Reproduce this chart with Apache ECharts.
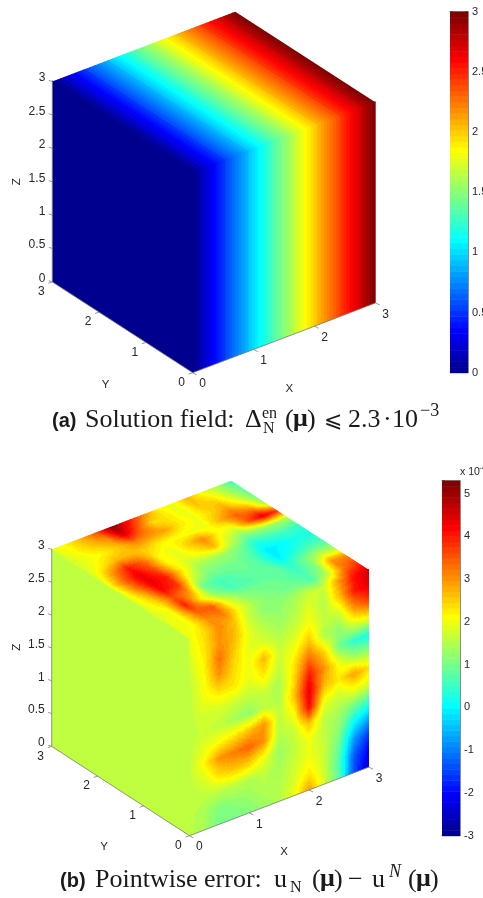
<!DOCTYPE html>
<html><head><meta charset="utf-8">
<style>html,body{margin:0;padding:0;background:#fff;overflow:hidden}#c{width:483px;height:898px}</style>
<script src="https://cdn.jsdelivr.net/npm/echarts@6/dist/echarts.min.js"></script>
</head><body><div id="c"></div>
<script>
// ---- data ----
const xTicks=[0,1,2,3], yTicks=[0,1,2,3], zTicks=[0,0.5,1,1.5,2,2.5,3];
const rangeA=[0,3], rangeB=[-3,5.3];
// panel (a): solution field, read along x (rows are identical along the other direction)
const solutionRow=[0,0.25,0.5,0.75,1,1.25,1.5,1.75,2,2.25,2.5,2.75,3];
const solutionLeft=[[0,0],[0,0]];
// panel (b): pointwise error, x 1e-4.  Left face x=0
const errorLeft=[[1.57,1.57],[1.57,1.57]];
// right face y=0; rows z=3..0, columns x=0..3 by 0.25
const errorFront=[
[2.0,2.4,3.1,2.6,1.6,1.2,1.2,1.4,1.7,1.7,3.0,4.1,4.6],
[1.9,2.3,3.0,2.7,1.9,1.5,1.3,1.5,1.9,1.5,2.6,4.0,4.4],
[1.7,2.2,3.3,2.5,1.9,1.8,1.5,1.7,2.1,1.6,1.7,3.0,3.6],
[1.6,2.1,3.0,2.4,2.0,2.7,1.7,2.0,2.6,1.5,1.2,1.8,2.0],
[1.6,2.0,2.3,2.3,1.9,2.3,1.6,2.3,3.3,2.5,1.0,0.4,0.2],
[1.6,1.8,1.8,1.7,1.6,1.7,1.4,2.4,4.0,3.0,2.0,1.4,1.3],
[1.6,1.7,1.6,1.4,1.2,1.6,1.5,2.6,4.4,2.7,2.3,2.9,2.4],
[1.6,1.9,2.1,2.3,2.6,3.0,1.6,2.1,4.2,2.0,1.7,2.0,1.8],
[1.6,2.2,3.0,3.2,3.4,3.0,1.5,1.7,2.6,1.6,1.4,0.9,0.5],
[1.6,1.8,2.4,2.6,2.5,2.0,1.3,1.6,2.0,1.6,1.2,0.0,-0.6],
[1.6,1.6,1.6,1.6,1.5,1.6,1.4,1.7,2.0,1.7,0.9,-0.8,-1.6],
[1.6,1.4,1.1,1.2,1.3,1.5,1.5,1.8,2.3,1.7,0.7,-1.3,-2.1],
[1.6,1.4,1.0,1.0,1.1,1.3,1.5,2.0,2.9,1.8,0.8,-1.4,-2.4]];
// top face z=3; rows y=3..0, columns x=0..3 by 0.25
const errorTop=[
[2.0,2.2,2.8,3.6,5.2,4.2,3.2,2.2,2.0,2.7,2.0,1.4,0.6],
[1.8,2.2,2.6,3.0,4.6,3.5,2.4,2.3,1.9,2.6,2.4,1.6,0.8],
[1.8,2.0,2.2,2.6,3.2,3.0,2.9,2.3,2.0,2.4,2.8,2.0,1.0],
[1.8,2.2,2.7,2.7,2.5,2.2,2.1,2.0,2.0,2.8,3.4,3.0,1.4],
[1.8,3.0,4.0,3.4,2.2,1.9,2.5,3.1,2.2,1.9,3.4,4.4,3.8],
[2.0,3.4,4.4,3.6,2.2,1.9,2.2,2.7,1.7,1.1,1.3,1.4,1.4],
[1.8,3.2,4.4,4.0,2.4,1.5,1.4,1.3,1.0,0.3,0.5,0.6,0.4],
[1.8,2.7,4.2,3.8,1.8,1.1,1.0,1.0,0.7,-0.1,0.0,0.2,0.3],
[1.8,2.4,3.6,3.0,0.9,0.6,0.8,0.9,0.7,-0.1,0.3,0.6,0.7],
[1.8,2.1,4.0,2.3,1.2,0.6,0.7,0.8,0.9,0.4,1.0,1.5,1.4],
[1.9,2.1,3.4,3.5,1.9,1.2,1.0,1.0,0.8,0.6,1.1,3.0,3.0],
[1.9,2.1,3.0,3.2,2.1,1.4,1.1,1.0,1.0,0.7,1.6,3.2,3.8],
[2.0,2.4,3.1,2.6,1.6,1.2,1.2,1.4,1.7,1.7,3.0,4.1,4.6]];
const labelColor='#262626', edgeColor='#7a7a7a';
const SANS='"Liberation Sans"', SERIF='"Liberation Serif"';

// ---- projection of the cube's 3 axes into a flat scene ----
const P={ux:61,uy:-46.8,vx:23.33,vy:30.33,vz:66.9};
const scene=(x,y,z)=>[x*P.ux+y*P.uy, x*P.vx+y*P.vy+z*P.vz];
const sceneU=[3*P.uy,3*P.ux], sceneV=[0,3*(P.vx+P.vy+P.vz)];

// MATLAB jet, 64 levels
function jet(i){const t=(i+1)/64;const c=o=>Math.max(0,Math.min(1,1.5-Math.abs(4*t-o)));
  return 'rgb('+Math.round(255*c(3))+','+Math.round(255*c(2))+','+Math.round(255*c(1))+')';}
const JET=Array.from({length:64},(_,i)=>jet(i));
function colorOf(v,r){let k=Math.floor((v-r[0])/(r[1]-r[0])*64);return JET[Math.max(0,Math.min(63,k))];}

// left and front faces run a hair under the faces painted after them, so the folds show no seam
const E=0.006;
const faces={
  left:(a,b)=>scene(0,3*(1-a*(1+E)),3*(1-b*(1+E)+E)),
  front:(a,b)=>scene(3*a,0,3*(1-b*(1+E)+E)),
  top:(a,b)=>scene(3*a,3*(1-b),3)
};
function faceSeries(idx,face,grid,range,nu,nv){
  const R=grid.length-1,C=grid[0].length-1,data=[];
  for(let r=0;r<R;r++)for(let c=0;c<C;c++)data.push([r,c]);
  return {type:'custom',coordinateSystem:'cartesian2d',xAxisIndex:idx,yAxisIndex:idx,silent:true,clip:false,z:2,
    animation:false,progressive:0,encode:{x:0,y:1},data,
    renderItem(p,api){
      const r=api.value(0),c=api.value(1),children=[];
      const pt=(a,b)=>api.coord(faces[face](Math.min(1,(c+a)/C),Math.min(1,(r+b)/R)));
      for(let i=0;i<nu;i++)for(let j=0;j<nv;j++){
        const a0=i/nu,a1=(i+1)/nu,b0=j/nv,b1=(j+1)/nv,am=(a0+a1)/2,bm=(b0+b1)/2;
        const a2=a1+0.5/nu,b2=b1+0.5/nv;
        const v=(grid[r][c]*(1-am)+grid[r][c+1]*am)*(1-bm)+(grid[r+1][c]*(1-am)+grid[r+1][c+1]*am)*bm;
        children.push({type:'polygon',shape:{points:[pt(a0,b0),pt(a2,b0),pt(a2,b2),pt(a0,b2)]},
          style:{fill:colorOf(v,range)}});
      }
      return {type:'group',children};
    }};
}
function axisSeries(idx,names){
  const items=[];
  [[0,0,0,0,3,0],[0,0,0,3,0,0],[0,3,0,0,3,3]].forEach(e=>items.push({k:'edge',e}));
  zTicks.forEach(t=>items.push({k:'tick',p:[0,3,t],d:[-3.5,-1.2],l:[-7,-3.5],t:String(t),align:'right'}));
  yTicks.forEach(t=>items.push({k:'tick',p:[0,t,0],d:[-4,1.3],l:[-11,10],t:String(t),align:'center'}));
  xTicks.forEach(t=>items.push({k:'tick',p:[t,0,0],d:[4,2.2],l:[10,11.4],t:String(t),align:'center'}));
  names.forEach(n=>items.push(n));
  return {type:'custom',coordinateSystem:'cartesian2d',xAxisIndex:idx,yAxisIndex:idx,silent:true,clip:false,z:5,
    animation:false,data:items.map((_,i)=>[i]),encode:{x:0},
    renderItem(p,api){
      const it=items[api.value(0)];
      if(it.k==='edge'){
        const a=api.coord(scene(it.e[0],it.e[1],it.e[2])),b=api.coord(scene(it.e[3],it.e[4],it.e[5]));
        return {type:'line',shape:{x1:a[0],y1:a[1],x2:b[0],y2:b[1]},style:{stroke:edgeColor,lineWidth:0.8}};
      }
      if(it.k==='tick'){
        const a=api.coord(scene(it.p[0],it.p[1],it.p[2]));
        return {type:'group',children:[
          {type:'line',shape:{x1:a[0],y1:a[1],x2:a[0]+it.d[0],y2:a[1]+it.d[1]},style:{stroke:edgeColor,lineWidth:0.8}},
          {type:'text',x:a[0]+it.l[0],y:a[1]+it.l[1],style:{text:it.t,fill:labelColor,font:'12px '+SANS,align:it.align,verticalAlign:'middle'}}]};
      }
      return {type:'text',x:it.x,y:it.y,rotation:it.rot||0,style:{text:it.t,fill:labelColor,font:'11.5px '+SANS,align:'center',verticalAlign:'middle'}};
    }};
}
function barSeries(idx,range){
  const levels=Array.from({length:64},(_,i)=>[i]);
  const h=(range[1]-range[0])/64;
  return {type:'custom',coordinateSystem:'cartesian2d',xAxisIndex:idx,yAxisIndex:idx,silent:true,z:2,animation:false,
    data:levels,encode:{x:0},
    renderItem(p,api){
      const i=api.value(0),a=api.coord([0,range[0]+i*h]),b=api.coord([1,range[0]+(i+1)*h]);
      return {type:'rect',shape:{x:a[0],y:b[1],width:b[0]-a[0],height:a[1]-b[1]+0.5},style:{fill:JET[i]}};
    }};
}
const cubeGrids=[{left:52.3,top:11.7,width:323.4,height:361},{left:51.7,top:480.7,width:317.3,height:355}];
const barGrids=[{left:450,top:11.7,width:18,height:361},{left:442,top:480.7,width:18,height:355}];
const barRanges=[rangeA,rangeB], barIntervals=[0.5,1];
const hiddenX=g=>({type:'value',gridIndex:g,min:sceneU[0],max:sceneU[1],show:false});
const hiddenY=g=>({type:'value',gridIndex:g,min:sceneV[0],max:sceneV[1],show:false});
const line={show:true,onZero:false,lineStyle:{color:'#8c8c8c',width:1}};
const barX=(g,pos)=>({type:'value',gridIndex:g,min:0,max:1,position:pos,axisLine:line,axisTick:{show:false},axisLabel:{show:false},splitLine:{show:false}});
const barY=(g,pos,r,iv,lab)=>({type:'value',gridIndex:g,min:r[0],max:r[1],interval:iv,position:pos,axisLine:line,
  axisTick:{show:true,inside:true,length:3,lineStyle:{color:'#555',width:0.8}},
  axisLabel:lab?{show:true,showMaxLabel:r[1]===3,margin:4,color:labelColor,fontFamily:SANS,fontSize:11}:{show:false},splitLine:{show:false}});

const namesA=[{k:'name',t:'Z',x:17.3,y:181.7,rot:Math.PI/2},{k:'name',t:'Y',x:105.7,y:385},{k:'name',t:'X',x:289.3,y:389.3}];
const namesB=[{k:'name',t:'Z',x:17.3,y:647.3,rot:Math.PI/2},{k:'name',t:'Y',x:104,y:846.7},{k:'name',t:'X',x:284,y:851.7}];

// y is the text baseline
const T=(text,x,y,size,family)=>({type:'text',x,y:y-0.32*size,silent:true,style:{text,fill:'#1a1a1a',font:(family||size+'px '+SERIF),align:'left',verticalAlign:'middle'}});
const base=26, sm=16;
const mu='bold '+base+'px '+SERIF;
const captionA=[
 T('(a)',52,428,20,'bold 20px '+SANS),
 T('Solution field:',85,428,base),
 T('Δ',245,428,base),
 T('en',262,419,sm),
 T('N',263,434,sm),
 T('(',285,428,base),T('μ',293,428,base,mu),T(')',307,428,base),
 T('⩽',324,428,22,'22px "DejaVu Sans"'),
 T('2.3',348,428,base),T('·',383,428,base),T('10',392,428,base),
 T('−3',420,417,18)];
const captionB=[
 T('(b)',60,888,20,'bold 20px '+SANS),
 T('Pointwise error:',95,888,base),
 T('u',274,888,base),
 T('N',290,893,sm),
 T('(',312,888,base),T('μ',320,888,base,mu),T(')',334,888,base),
 T('−',348,888,base),
 T('u',372,888,base),
 T('N',389,878,18,'italic 18px '+SERIF),
 T('(',408,888,base),T('μ',416,888,base,mu),T(')',430,888,base)];
const exponent=[
 {type:'text',x:460,y:472,silent:true,style:{text:'x 10',fill:labelColor,font:'10.5px '+SANS,align:'left',verticalAlign:'middle'}},
 {type:'text',x:479,y:468,silent:true,style:{text:'-4',fill:labelColor,font:'8px '+SANS,align:'left',verticalAlign:'middle'}}];

const chart=echarts.init(document.getElementById('c'),null,{renderer:'canvas'});
chart.setOption({
  animation:false,
  grid:[...cubeGrids,...barGrids].map(g=>Object.assign({containLabel:false,outerBoundsMode:'none'},g)),
  xAxis:[hiddenX(0),hiddenX(1),barX(2,'bottom'),barX(3,'bottom'),barX(2,'top'),barX(3,'top')],
  yAxis:[hiddenY(0),hiddenY(1),
    barY(2,'right',barRanges[0],barIntervals[0],true),barY(3,'right',barRanges[1],barIntervals[1],true),
    barY(2,'left',barRanges[0],barIntervals[0],false),barY(3,'left',barRanges[1],barIntervals[1],false)],
  series:[
    faceSeries(0,'left',solutionLeft,rangeA,1,1),
    faceSeries(0,'front',[solutionRow,solutionRow],rangeA,10,1),
    faceSeries(0,'top',[solutionRow,solutionRow],rangeA,10,1),
    axisSeries(0,namesA),
    faceSeries(1,'left',errorLeft,rangeB,1,1),
    faceSeries(1,'front',errorFront,rangeB,10,10),
    faceSeries(1,'top',errorTop,rangeB,10,10),
    axisSeries(1,namesB),
    barSeries(2,rangeA),
    barSeries(3,rangeB)
  ],
  graphic:{elements:[...captionA,...captionB,...exponent]}
});
</script></body></html>
